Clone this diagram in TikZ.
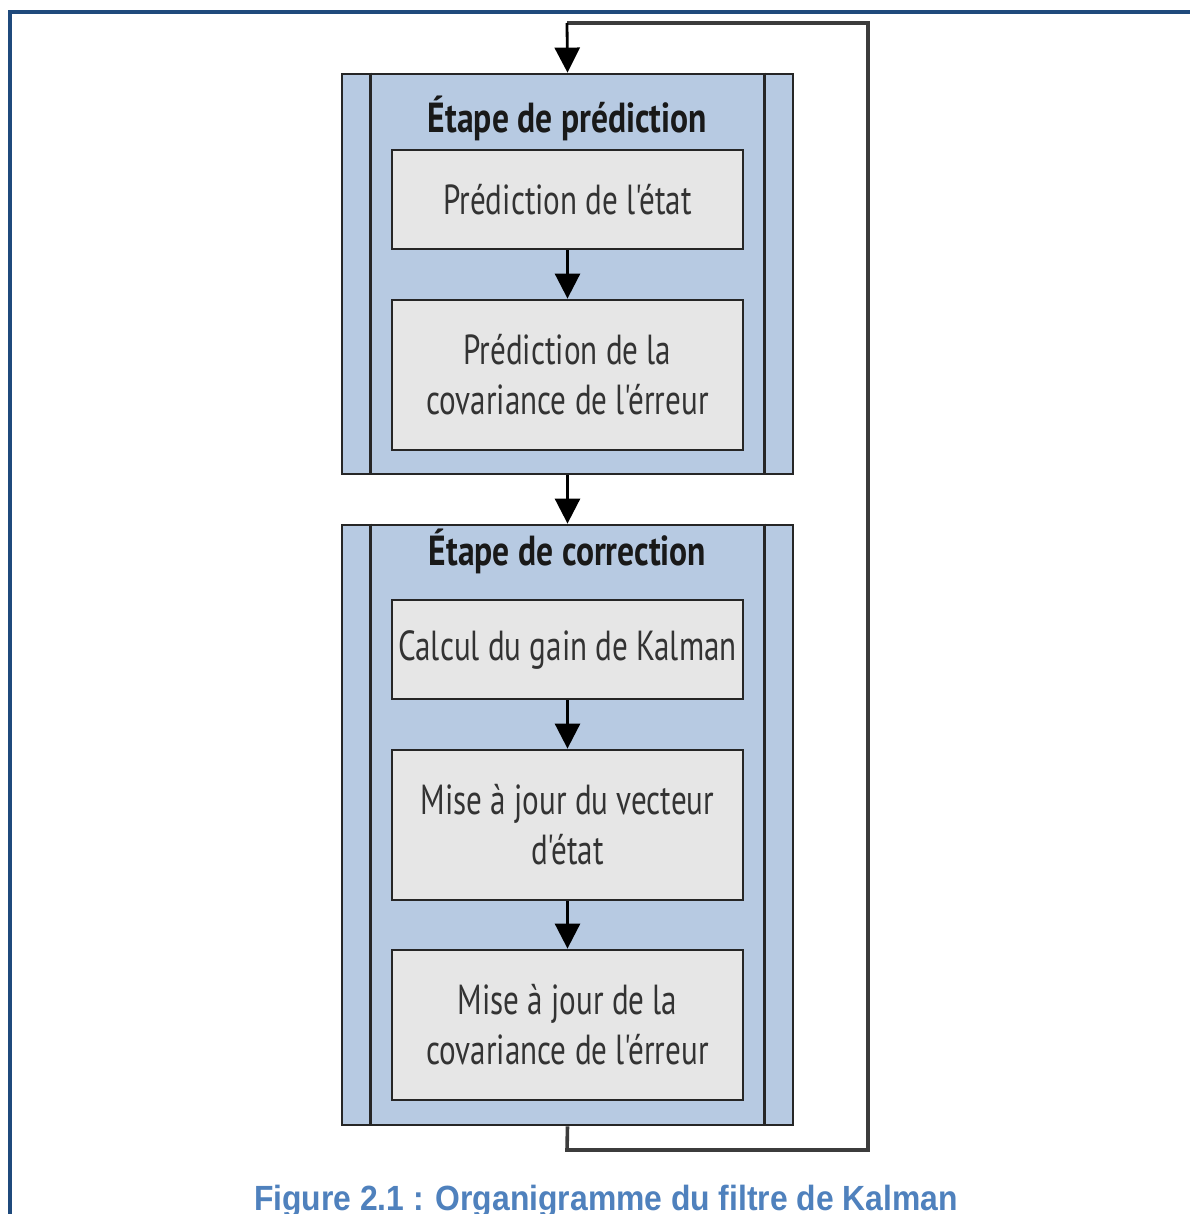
\documentclass[tikz,border=0pt]{standalone}
\usepackage{fontspec}
\usetikzlibrary{arrows.meta}
\newfontfamily\stepfont[FakeStretch=0.74, Ligatures=TeXOff]{PT Sans}
\newfontfamily\titlefont[FakeStretch=0.80, Ligatures=TeXOff]{PT Sans}
\newfontfamily\capfont[FakeStretch=0.91]{Liberation Sans}
\definecolor{frameblue}{HTML}{1F4A7C}
\definecolor{stagefill}{HTML}{B7CAE2}
\definecolor{taskfill}{HTML}{E6E6E6}
\definecolor{edgegray}{HTML}{262626}
\definecolor{captionblue}{HTML}{4F81BD}
\tikzset{
  stage/.style={draw=edgegray, line width=1.4pt, fill=stagefill, rectangle,
    minimum width=225.5pt, inner sep=0pt},
  task/.style={draw=edgegray, line width=1.4pt, fill=taskfill, rectangle,
    minimum width=175.5pt, inner sep=0pt, align=center, text=black!80,
    font=\stepfont\fontsize{21}{25}\selectfont},
  stagetitle/.style={font=\titlefont\bfseries\fontsize{21}{25}\selectfont, text=black!90, inner sep=0pt},
  flow/.style={draw=black, line width=1.4pt, -{Triangle[width=12.5pt,length=12.5pt]}},
  loopline/.style={draw=edgegray!90, line width=1.8pt},
}
\begin{document}
\begin{tikzpicture}[x=0.5pt,y=-0.5pt]
\useasboundingbox (0,0) rectangle (1190,1214);
\fill[white] (0,0) rectangle (1190,1214);
% page frame (top and left rules)
\draw[frameblue, line width=2pt] (10,1214) -- (10,12) -- (1190,12);

% stage containers
\node[stage, minimum height=200pt] (pred) at (567.5,274) {};
\node[stage, minimum height=300pt] (corr) at (567.5,825) {};
\foreach \s in {pred,corr}{
  \draw[edgegray, line width=1.4pt] ([xshift=15pt]\s.north west) -- ([xshift=15pt]\s.south west);
  \draw[edgegray, line width=1.4pt] ([xshift=-15pt]\s.north east) -- ([xshift=-15pt]\s.south east);
}
\node[stagetitle, anchor=base] (predtitle) at (567.5,133) {Étape de prédiction};
\node[stagetitle, anchor=base] (corrtitle) at (567.5,565) {Étape de correction};

% tasks
\node[task, minimum height=49.5pt] (p1) at (567.5,199.5) {Prédiction de l'état};
\node[task, minimum height=75pt] (p2) at (567.5,375) {Prédiction de la\\covariance de l'érreur};
\node[task, minimum height=49.5pt] (c1) at (567.5,649.5) {Calcul du gain de Kalman};
\node[task, minimum height=75pt] (c2) at (567.5,825) {Mise à jour du vecteur\\d'état};
\node[task, minimum height=75pt] (c3) at (567.5,1025) {Mise à jour de la\\covariance de l'érreur};

% flow arrows
\draw[flow] (p1.south) -- (p2.north);
\draw[flow] (pred.south) -- (corr.north);
\draw[flow] (c1.south) -- (c2.north);
\draw[flow] (c2.south) -- (c3.north);

% feedback loop
\coordinate (lb) at (567,1150);
\coordinate (rb) at (868,1150);
\coordinate (rt) at (868,23);
\coordinate (lt) at (567,23);
\draw[loopline] (corr.south) -- (lb) -- (rb) -- (rt) -- (lt);
\draw[flow, draw=black] (lt) -- (pred.north);

% caption
\node[anchor=base, inner sep=0pt, text=captionblue,
  font=\capfont\bfseries\fontsize{17.5}{20}\selectfont] (caption) at (606,1210)
  {Figure 2.1 : Organigramme du filtre de Kalman};
\end{tikzpicture}
\end{document}
